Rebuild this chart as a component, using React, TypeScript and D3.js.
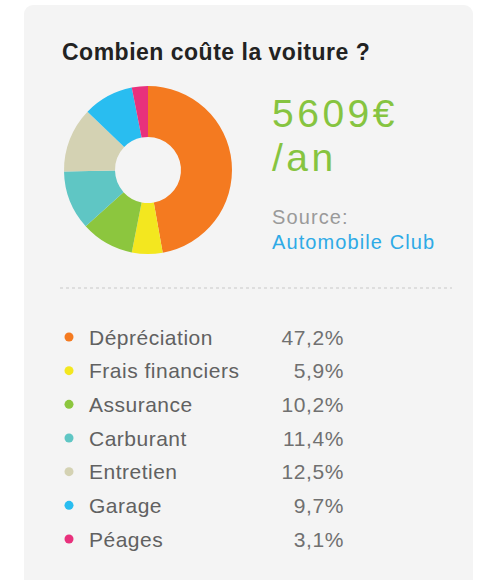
import React from "react";
import * as d3 from "d3";

const categories = ["Dépréciation", "Frais financiers", "Assurance", "Carburant", "Entretien", "Garage", "Péages"];
const values = [47.2, 5.9, 10.2, 11.4, 12.5, 9.7, 3.1];
const valueLabels = ["47,2%", "5,9%", "10,2%", "11,4%", "12,5%", "9,7%", "3,1%"];
const colors = ["#f47a20", "#f3e71f", "#8cc63e", "#5fc6c4", "#d4d2b3", "#29bdf0", "#e8317c"];

const W = 481;
const H = 580;
const FONT = "'Liberation Sans', Arial, Helvetica, sans-serif";

export default function App() {
  const cx = 148;
  const cy = 170;
  const pie = d3.pie<number>().sort(null).value((d) => d)(values);
  const arc = d3.arc<d3.PieArcDatum<number>>().innerRadius(33).outerRadius(84);
  const yScale = d3.scalePoint<string>().domain(categories).range([337, 539]);

  return (
    <div style={{ position: "absolute", left: 0, top: 0, width: W, height: H, background: "#fff" }}>
      <svg width={W} height={H} style={{ display: "block" }} fontFamily={FONT}>
        <rect x={24} y={5} width={449} height={620} rx={9} fill="#f4f4f4" />
        <text x={62} y={60} fontSize={23} fontWeight="bold" fill="#222" letterSpacing={0.5}>
          Combien coûte la voiture ?
        </text>
        <g transform={`translate(${cx},${cy})`}>
          {pie.map((p, i) => (
            <path key={i} d={arc(p) || ""} fill={colors[i]} />
          ))}
        </g>
        <text x={272} y={127} fontSize={39} fill="#86c440" letterSpacing={3.5}>
          5609€
        </text>
        <text x={272} y={171} fontSize={39} fill="#86c440" letterSpacing={3.5}>
          /an
        </text>
        <text x={272} y={224} fontSize={20} fill="#9a9a9a" letterSpacing={1.1}>
          Source:
        </text>
        <text x={272} y={249} fontSize={20} fill="#2eaae6" letterSpacing={1.1}>
          Automobile Club
        </text>
        <line x1={60} x2={452} y1={288} y2={288} stroke="#dedede" strokeWidth={2} strokeDasharray="3,3" />
        {categories.map((c, i) => {
          const y = yScale(c) as number;
          return (
            <g key={c}>
              <circle cx={69} cy={y} r={4.5} fill={colors[i]} />
              <text x={89} y={y} dy="0.36em" fontSize={21} fill="#616161" letterSpacing={0.5}>
                {c}
              </text>
              <text x={344} y={y} dy="0.36em" fontSize={21} fill="#707070" letterSpacing={0.6} textAnchor="end">
                {valueLabels[i]}
              </text>
            </g>
          );
        })}
      </svg>
    </div>
  );
}
